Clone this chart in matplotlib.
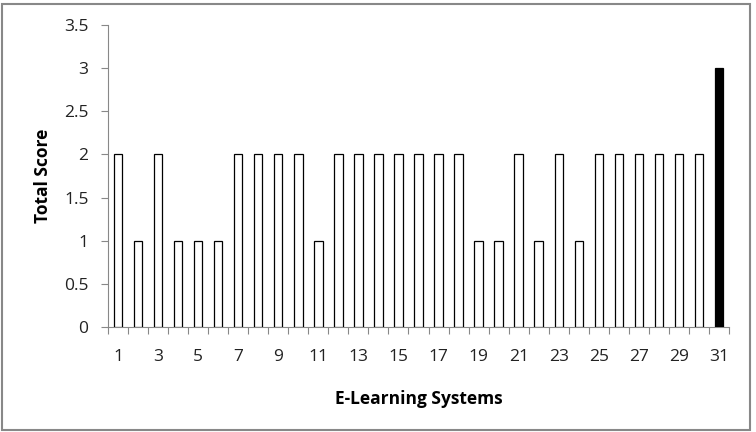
import matplotlib
matplotlib.use("Agg")
import matplotlib.pyplot as plt
from matplotlib.patches import Rectangle

systems = list(range(1, 32))
scores = [2, 1, 2, 1, 1, 1, 2, 2, 2, 2, 1, 2, 2, 2, 2, 2, 2, 2, 1, 1, 2, 1, 2, 1, 2, 2, 2, 2, 2, 2, 3]
highlight = 31
yticks = [0, 0.5, 1, 1.5, 2, 2.5, 3, 3.5]
ytick_labels = ["0", "0.5", "1", "1.5", "2", "2.5", "3", "3.5"]

plt.rcParams['font.family'] = ['Open Sans', 'DejaVu Sans']

fig = plt.figure(figsize=(7.56, 4.32), dpi=100)
ax = fig.add_axes([108/756, 1 - 327/432, (729-108)/756, (327-25)/432])

colors = ['black' if s == highlight else 'white' for s in systems]
ax.bar(systems, scores, width=0.42, color=colors, edgecolor='black', linewidth=0.9, zorder=3)

ax.set_xlim(0.5, 31.5)
ax.set_ylim(0, 3.5)
ax.set_yticks(yticks)
ax.set_yticklabels(ytick_labels)

# x ticks: labels at odd categories, tick marks at category boundaries
ax.set_xticks([s for s in systems if s % 2 == 1])
ax.set_xticklabels([str(s) for s in systems if s % 2 == 1])
ax.tick_params(axis='x', which='major', length=0, pad=16, labelsize=12.5, colors='#222222')
ax.set_xticks([s + 0.5 for s in [0] + systems], minor=True)
ax.tick_params(axis='x', which='minor', length=5, color='#888888', width=0.8, direction='out')
ax.tick_params(axis='y', length=5, color='#888888', width=0.8, direction='out', labelsize=12.5, pad=9, labelcolor='#222222')

for s in ['top', 'right']:
    ax.spines[s].set_visible(False)
for s in ['left', 'bottom']:
    ax.spines[s].set_color('#888888')
    ax.spines[s].set_linewidth(0.8)

ax.set_xlabel('E-Learning Systems', fontsize=12.5, fontweight='bold', labelpad=18)
ax.set_ylabel('Total Score', fontsize=12.5, fontweight='bold', labelpad=9)

fig.patches.append(Rectangle((2/756, 2/432), 748/756, 426/432, transform=fig.transFigure,
                             fill=False, edgecolor='#888888', linewidth=1.5))

fig.savefig('out.png', dpi=100)
